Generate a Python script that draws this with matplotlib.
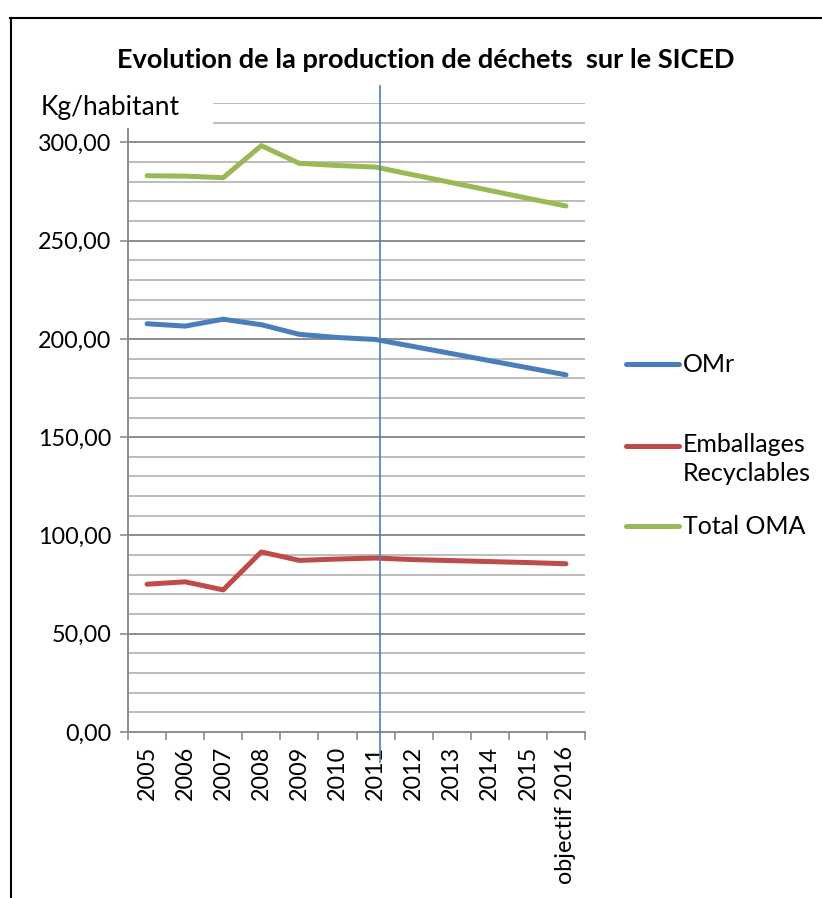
import matplotlib
matplotlib.use("Agg")
import matplotlib.pyplot as plt
from matplotlib.lines import Line2D
from matplotlib.patches import Rectangle
import numpy as np

categories = ["2005", "2006", "2007", "2008", "2009", "2010", "2011",
              "2012", "2013", "2014", "2015", "objectif 2016"]
omr = [207.7, 206.5, 210.0, 207.2, 202.3, 200.7, 199.7, 196.1, 192.5, 188.9, 185.3, 181.7]
emballages = [75.2, 76.4, 72.3, 91.6, 87.3, 88.0, 88.5, 87.7, 87.2, 86.7, 86.2, 85.6]
total_oma = [283.0, 282.8, 282.0, 298.3, 289.3, 288.2, 287.4, 283.4, 279.5, 275.5, 271.5, 267.6]
series_names = ["OMr", "Emballages\nRecyclables", "Total OMA"]
series_colors = ["#4A7EBB", "#BE4B48", "#98B954"]
y_major = [0, 50, 100, 150, 200, 250, 300]
marker_position = 6.13  # vertical line near 2011

FONT = ["Lato", "DejaVu Sans"]
plt.rcParams["font.family"] = FONT

W, H = 822, 898
fig = plt.figure(figsize=(W / 100, H / 100), dpi=100)

def fx(px):
    return px / W

def fy(py):
    return 1 - py / H

ax = fig.add_axes([fx(128), fy(732), fx(585) - fx(128), fy(103) - fy(732)])
x = np.arange(len(categories))
for vals, col in zip([omr, emballages, total_oma], series_colors):
    ax.plot(x, vals, color=col, lw=3.6, solid_capstyle="round", solid_joinstyle="round", zorder=3)

ax.set_xlim(-0.5, len(categories) - 0.5)
ax.set_ylim(0, 320)

# gridlines
for v in range(10, 321, 10):
    major = v % 50 == 0 and v <= 300
    ax.axhline(v, color="#8C8C8C" if major else "#BDBDBD", lw=1.4, zorder=1)

ax.set_yticks(y_major)
ax.set_yticklabels([f"{v:.2f}".replace(".", ",") for v in y_major], fontsize=16.8)
ax.tick_params(axis="y", direction="out", length=6, width=1.2, color="#8C8C8C", pad=6)

ax.set_xticks(np.arange(-0.5, len(categories), 1.0))
ax.set_xticklabels([])
ax.set_xticks(x, minor=True)
ax.set_xticklabels(categories, minor=True, rotation=90, fontsize=16.8, va="top")
ax.tick_params(axis="x", which="major", direction="out", length=6, width=1.2, color="#8C8C8C")
ax.tick_params(axis="x", which="minor", length=0, pad=10)

for s in ["top", "right"]:
    ax.spines[s].set_visible(False)
for s in ["left", "bottom"]:
    ax.spines[s].set_color("#8C8C8C")
    ax.spines[s].set_linewidth(1.4)
ax.spines["bottom"].set_zorder(2)

# vertical marker line
ax.plot([marker_position, marker_position], [-15.2, 328.6], color="#4A7EBB", lw=1.2,
        clip_on=False, zorder=4)

# y unit label with white background
fig.add_artist(Rectangle((fx(14), fy(128)), fx(213) - fx(14), fy(86) - fy(128),
                         transform=fig.transFigure, facecolor="white", edgecolor="none", zorder=5))
fig.text(fx(41), fy(107), "Kg/habitant", fontsize=19, va="center", ha="left", zorder=6)

# title
fig.text(fx(426), fy(60), "Evolution de la production de déchets  sur le SICED",
         fontsize=19.5, fontweight="bold", ha="center", va="center")

# legend
leg_y = [364, 446, 526]
for name, col, py in zip(series_names, series_colors, leg_y):
    fig.add_artist(Line2D([fx(626), fx(679)], [fy(py), fy(py)], transform=fig.transFigure,
                          color=col, lw=3.6, solid_capstyle="round"))
    if "\n" in name:
        fig.text(fx(683), fy(py - 13), name, fontsize=18, ha="left", va="top", linespacing=1.3)
    else:
        fig.text(fx(683), fy(py), name, fontsize=18, ha="left", va="center")

# outer frame
fig.add_artist(Line2D([fx(10.5), fx(10.5)], [fy(898), fy(17.5)], transform=fig.transFigure,
                      color="black", lw=1.5))
fig.add_artist(Line2D([fx(10), fx(822)], [fy(17.5), fy(17.5)], transform=fig.transFigure,
                      color="black", lw=1.5))

fig.savefig("out.png", dpi=100, facecolor="white")
